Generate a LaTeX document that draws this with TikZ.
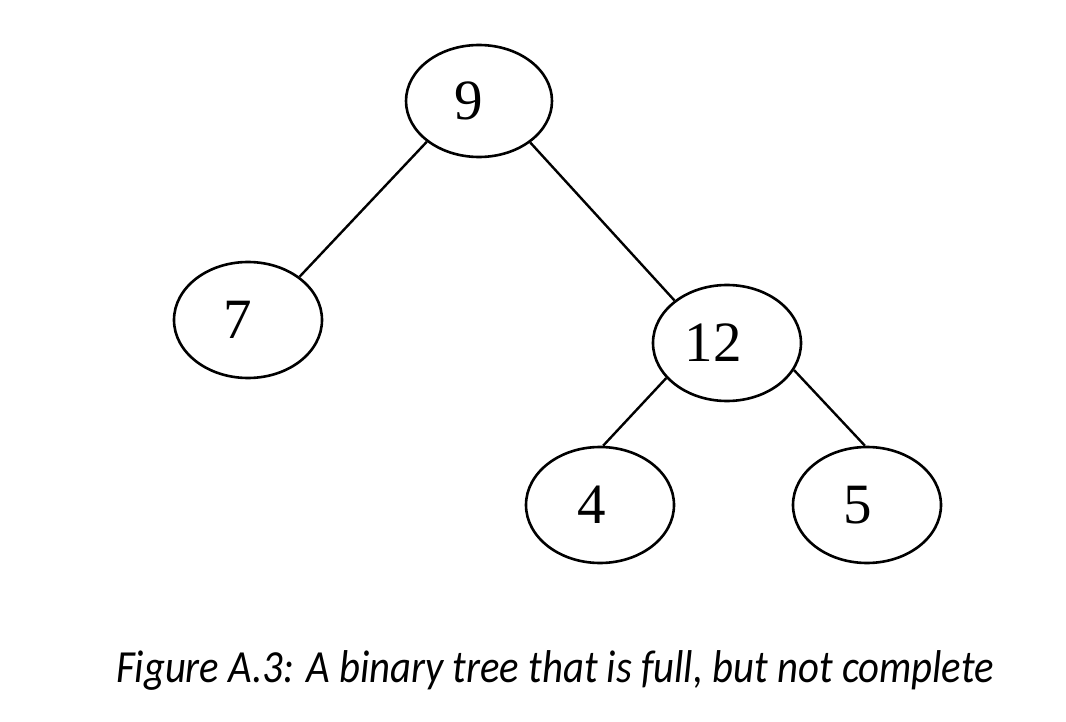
\documentclass[tikz,border=0pt]{standalone}
\usepackage{fontspec}
\setmainfont{Liberation Serif}
\newfontfamily\capfont[FakeStretch=0.885]{Carlito}
\usetikzlibrary{shapes.geometric}
\begin{document}
\begin{tikzpicture}[x=1pt,y=-1pt,
  treenode/.style={draw, ellipse, line width=2.6pt, inner sep=0pt,
    minimum width=148pt, minimum height=116pt,
    font=\fontsize{57}{57}\selectfont},
  edge/.style={line width=2.4pt}]
\useasboundingbox (0,0) rectangle (1066,722);
\node[treenode, minimum width=146pt, minimum height=112pt] (n9) at (479,101) {9\kern20pt\null};
\node[treenode] (n7) at (248,320) {7\kern20pt\null};
\node[treenode] (n12) at (727,343) {12\kern28pt\null};
\node[treenode] (n4) at (600,505) {4\kern16pt\null};
\node[treenode] (n5) at (867,505) {5\kern18pt\null};
\draw[edge] (n9.218) -- (n7.40);
\draw[edge] (n9.-39) -- (n12.141);
\draw[edge] (n12.-150) -- (n4.87);
\draw[edge] (n12.-22) -- (n5.92);
\node[anchor=base, font=\capfont\itshape\fontsize{46}{46}\selectfont] (cap) at (555,682) {Figure A.3: A binary tree that is full, but not complete};
\end{tikzpicture}
\end{document}
